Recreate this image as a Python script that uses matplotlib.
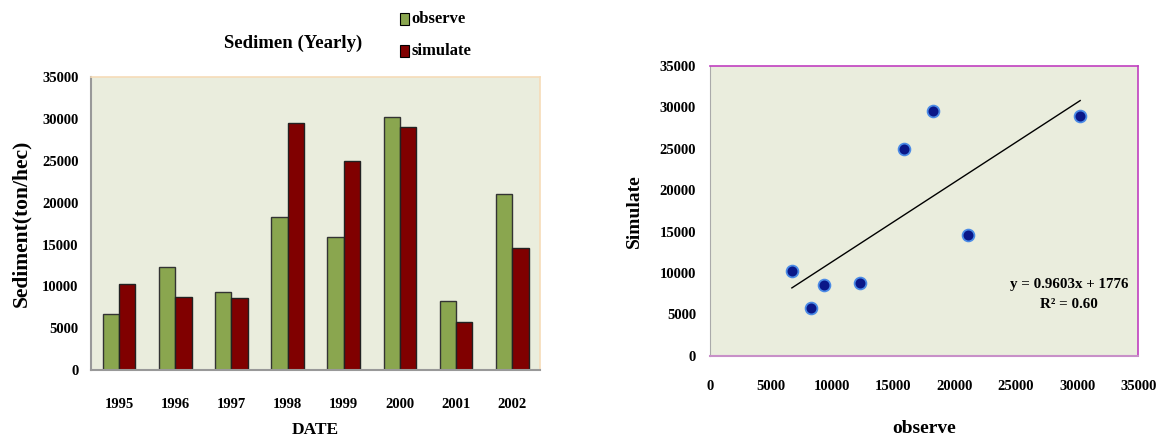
import matplotlib
matplotlib.use("Agg")
import matplotlib.pyplot as plt
import numpy as np
from matplotlib.patches import Rectangle

years = ["1995", "1996", "1997", "1998", "1999", "2000", "2001", "2002"]
observe = [6700, 12300, 9300, 18250, 15850, 30250, 8250, 21100]
simulate = [10300, 8800, 8600, 29550, 24950, 29000, 5800, 14600]
fit_slope = 0.9603
fit_intercept = 1776
fit_r2 = 0.60
yticks = [0, 5000, 10000, 15000, 20000, 25000, 30000, 35000]
xticks = [0, 5000, 10000, 15000, 20000, 25000, 30000, 35000]

plt.rcParams['font.family'] = ['Liberation Serif', 'DejaVu Serif']
plt.rcParams['font.weight'] = 'bold'

fig = plt.figure(figsize=(11.58, 4.46), dpi=100)
bg = '#eaeddd'
green = '#8aa64f'
red = '#800000'

# ---- left bar chart ----
ax1 = fig.add_axes([0.0786, 0.170, 0.388, 0.657])
ax1.set_facecolor(bg)
x = np.arange(len(years))
w = 0.29
ax1.bar(x - w/2, observe, w, color=green, edgecolor='#333333', linewidth=1.0)
ax1.bar(x + w/2, simulate, w, color=red, edgecolor='#222222', linewidth=1.0)
ax1.set_xlim(-0.5, len(years) - 0.5)
ax1.set_ylim(0, 35000)
ax1.set_yticks(yticks)
ax1.set_yticklabels([str(v) for v in yticks], fontsize=10.5, fontweight='bold')
ax1.set_xticks(x)
ax1.set_xticklabels(years, fontsize=10.5, fontweight='bold')
ax1.tick_params(axis='both', length=0)
ax1.tick_params(axis='x', pad=20)
ax1.tick_params(axis='y', pad=9)
for s in ['left', 'bottom']:
    ax1.spines[s].set_color('#999999')
    ax1.spines[s].set_linewidth(1.5)
for s in ['top', 'right']:
    ax1.spines[s].set_color('#f6dcb8')
    ax1.spines[s].set_linewidth(1.2)
ax1.set_ylabel('Sediment(ton/hec)', fontsize=15.5, fontweight='bold', labelpad=8)
ax1.set_xlabel('DATE', fontsize=12.5, fontweight='bold', labelpad=8)
fig.text(0.253, 0.903, 'Sedimen (Yearly)', fontsize=13.5, fontweight='bold',
         ha='center', va='center')
# legend
leg_items = [('observe', green), ('simulate', red)]
for i, (lab, col) in enumerate(leg_items):
    yy = 0.958 - i * 0.072
    fig.patches.append(Rectangle((0.3455, yy - 0.013), 0.0075, 0.026,
                                 transform=fig.transFigure, facecolor=col,
                                 edgecolor='black', linewidth=0.8))
    fig.text(0.355, yy, lab, fontsize=12, fontweight='bold', ha='left', va='center')

# ---- right scatter chart ----
ax2 = fig.add_axes([0.613, 0.202, 0.370, 0.650])
ax2.set_facecolor(bg)
ax2.scatter(observe, simulate, s=72, color='#0a1788', edgecolors='#4a8ae6',
            linewidths=1.3, zorder=3)
xs = np.array([min(observe), max(observe)])
ax2.plot(xs, fit_slope * xs + fit_intercept, color='black', linewidth=1.0, zorder=2)
ax2.set_xlim(0, 35000)
ax2.set_ylim(0, 35000)
ax2.set_xticks(xticks)
ax2.set_xticklabels([str(v) for v in xticks], fontsize=10.5, fontweight='bold')
ax2.set_yticks(yticks)
ax2.set_yticklabels([str(v) for v in yticks], fontsize=10.5, fontweight='bold')
ax2.tick_params(axis='both', length=0)
ax2.tick_params(axis='x', pad=17)
ax2.tick_params(axis='y', pad=10)
for s in ['top', 'right']:
    ax2.spines[s].set_color('#c040c0')
    ax2.spines[s].set_linewidth(1.2)
ax2.spines['left'].set_color('#aaaaaa')
ax2.spines['bottom'].set_color('#c890c8')
ax2.spines['bottom'].set_linewidth(1.5)
ax2.set_xlabel('observe', fontsize=14, fontweight='bold', labelpad=20)
ax2.set_ylabel('Simulate', fontsize=14, fontweight='bold', labelpad=12)
ax2.text(0.839, 0.248, 'y = %.4fx + %d' % (fit_slope, fit_intercept),
         transform=ax2.transAxes, fontsize=10.8, fontweight='bold', ha='center', va='center')
ax2.text(0.839, 0.176, 'R² = %.2f' % fit_r2,
         transform=ax2.transAxes, fontsize=10.8, fontweight='bold', ha='center', va='center')

fig.savefig('out.png', dpi=100)
